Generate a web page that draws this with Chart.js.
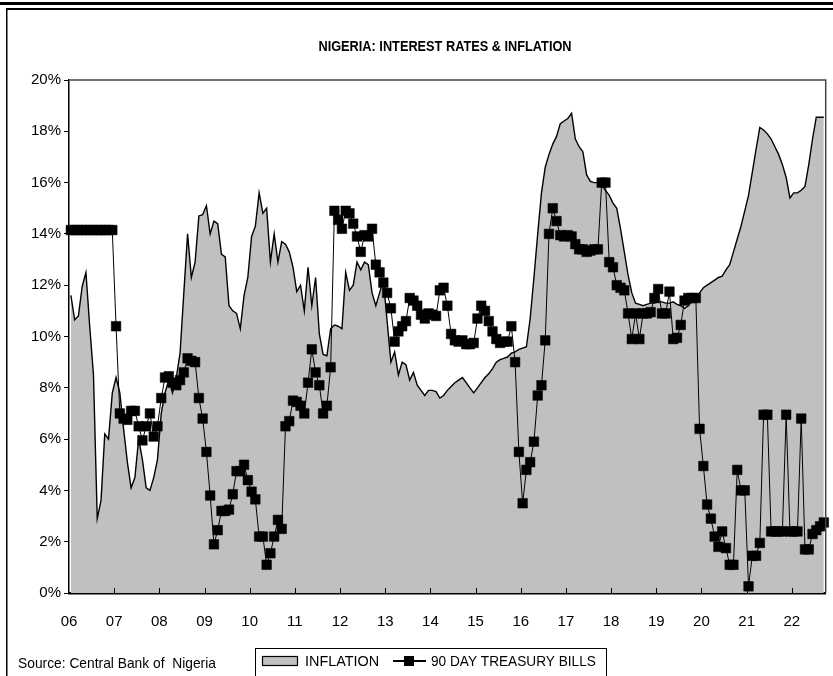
<!DOCTYPE html>
<html>
<head>
<meta charset="utf-8">
<script src="https://cdn.jsdelivr.net/npm/chart.js@4/dist/chart.umd.min.js"></script>
<style>
  html, body { margin: 0; padding: 0; background: #fff; }
  canvas { display: block; }
</style>
</head>
<body>
<canvas id="chart" width="833" height="676"></canvas>
<script>
// Monthly series, Jan 2006 onward (one value per month)
const yearLabels = ['06','07','08','09','10','11','12','13','14','15','16','17','18','19','20','21','22'];

const inflation = [
  11.6, 10.65, 10.8, 11.95, 12.5, 10.4, 8.5, 2.9, 3.6, 6.2, 6.0, 7.8,
  8.4, 7.8, 6.4, 5.1, 4.1, 4.5, 6.0, 5.2, 4.1, 4.0, 4.5, 5.2,
  7.0, 7.8, 8.3, 7.8, 8.4, 9.35, 11.7, 14.0, 12.3, 12.9, 14.7, 14.75,
  15.1, 14.0, 14.5, 14.4, 13.2, 13.1, 11.2, 11.0, 10.9, 10.3, 11.6, 12.3,
  13.9, 14.3, 15.6, 14.8, 15.0, 12.9, 14.0, 12.9, 13.7, 13.6, 13.3, 12.7,
  11.75, 12.0, 11.0, 12.7, 11.2, 12.3, 10.1, 9.3, 9.25, 10.3, 10.45, 10.4,
  10.3, 12.5, 11.8, 12.0, 12.9, 12.6, 12.9, 12.8, 11.7, 11.2, 11.7, 12.2,
  10.6, 9.0, 9.4, 8.5, 9.0, 8.9, 8.3, 8.6, 8.1, 7.9, 7.7, 7.9,
  7.9, 7.85, 7.6, 7.7, 7.9, 8.05, 8.2, 8.3, 8.4, 8.2, 8.0, 7.8,
  8.0, 8.2, 8.4, 8.55, 8.75, 9.0, 9.1, 9.15, 9.2, 9.35, 9.4, 9.5,
  9.55, 9.6, 10.7, 12.3, 14.0, 15.6, 16.6, 17.1, 17.5, 17.8, 18.3, 18.4,
  18.5, 18.7, 17.7, 17.4, 17.2, 16.3, 16.05, 16.0, 16.0, 15.9, 15.7, 15.5,
  15.2, 15.0, 14.2, 13.3, 12.4, 11.7, 11.3, 11.25, 11.2, 11.25, 11.3, 11.3,
  11.35, 11.35, 11.3, 11.3, 11.35, 11.25, 11.2, 11.1, 11.2, 11.4, 11.55, 11.7,
  11.9, 12.0, 12.1, 12.2, 12.3, 12.35, 12.6, 12.8, 13.3, 13.8, 14.3, 14.9,
  15.5, 16.4, 17.3, 18.15, 18.05, 17.9, 17.7, 17.4, 17.1, 16.7, 16.2, 15.4,
  15.6, 15.6, 15.7, 15.85, 16.7, 17.7, 18.55, 18.55, 18.55
];

const treasuryBills90 = [
  14.15, 14.15, 14.15, 14.15, 14.15, 14.15, 14.15, 14.15, 14.15, 14.15, 14.15, 14.15,
  10.4, 7.0, 6.8, 6.75, 7.1, 7.1, 6.5, 5.95, 6.5, 7.0, 6.1, 6.5,
  7.6, 8.4, 8.45, 8.2, 8.1, 8.3, 8.6, 9.15, 9.05, 9.0, 7.6, 6.8,
  5.5, 3.8, 1.9, 2.45, 3.2, 3.2, 3.25, 3.85, 4.75, 4.75, 5.0, 4.4,
  3.95, 3.65, 2.2, 2.2, 1.1, 1.55, 2.2, 2.85, 2.5, 6.5, 6.7, 7.5,
  7.45, 7.3, 7.0, 8.2, 9.5, 8.6, 8.1, 7.0, 7.3, 8.8, 14.9, 14.55,
  14.2, 14.9, 14.8, 14.4, 13.9, 13.3, 13.95, 13.9, 14.2, 12.8, 12.5, 12.1,
  11.7, 11.1, 9.8, 10.2, 10.4, 10.6, 11.5, 11.4, 11.2, 10.85, 10.7, 10.9,
  10.85, 10.8, 11.8, 11.9, 11.2, 10.1, 9.85, 9.8, 9.85, 9.7, 9.7, 9.75,
  10.7, 11.2, 11.0, 10.6, 10.2, 9.9, 9.75, 9.8, 9.8, 10.4, 9.0, 5.5,
  3.5, 4.8, 5.1, 5.9, 7.7, 8.1, 9.85, 14.0, 15.0, 14.5, 13.95, 13.9,
  13.95, 13.9, 13.6, 13.4, 13.4, 13.3, 13.35, 13.4, 13.4, 16.0, 16.0, 12.9,
  12.7, 12.0, 11.9, 11.8, 10.9, 9.9, 10.9, 9.9, 10.9, 10.9, 10.95, 11.5,
  11.85, 10.9, 10.9, 11.75, 9.9, 9.95, 10.45, 11.4, 11.5, 11.5, 11.5, 6.4,
  4.95, 3.45, 2.9, 2.2, 1.8, 2.4, 1.75, 1.1, 1.1, 4.8, 4.0, 4.0,
  0.26, 1.45, 1.45, 1.95, 6.95, 6.95, 2.4, 2.4, 2.4, 2.4, 6.95, 2.4,
  2.4, 2.4, 6.8, 1.7, 1.7, 2.3, 2.45, 2.6, 2.75
];

const seriesNames = ['INFLATION', '90 DAY TREASURY BILLS'];
const chartTitle = 'NIGERIA: INTEREST RATES & INFLATION';
const sourceNote = 'Source: Central Bank of  Nigeria';

const FONT = '"Liberation Sans Narrow", "Arial Narrow", "Liberation Sans", Arial, sans-serif';
const monthCount = Math.max(inflation.length, treasuryBills90.length);

// each month is centred in its own slot on the time axis
const asPoints = arr => arr.map((v, i) => ({ x: i + 0.5, y: v }));

// narrow-set text: draw with a horizontal squeeze around the anchor point
function narrowText(ctx, text, x, y, squeeze) {
  ctx.save();
  ctx.translate(x, y);
  ctx.scale(squeeze, 1);
  ctx.fillText(text, 0, 0);
  ctx.restore();
}

// Page furniture: rules, title, inward year ticks, plot frame, key and source line
const furniture = {
  id: 'furniture',
  beforeDraw(chart) {
    const { ctx, width, height } = chart;
    ctx.save();
    ctx.fillStyle = '#fff';
    ctx.fillRect(0, 0, width, height);
    ctx.restore();
  },
  afterDraw(chart) {
    const { ctx, chartArea: a, scales } = chart;
    ctx.save();

    // plot frame (top and right)
    ctx.strokeStyle = '#444';
    ctx.lineWidth = 1.5;
    ctx.beginPath();
    ctx.moveTo(a.left, a.top);
    ctx.lineTo(a.right, a.top);
    ctx.lineTo(a.right, a.bottom);
    ctx.stroke();

    // year ticks pointing into the plot
    ctx.strokeStyle = '#000';
    ctx.lineWidth = 1;
    for (let v = 12; v < monthCount; v += 12) {
      const x = Math.round(scales.x.getPixelForValue(v)) + 0.5;
      ctx.beginPath();
      ctx.moveTo(x, a.bottom);
      ctx.lineTo(x, a.bottom - 5);
      ctx.stroke();
    }

    // double rule along the top, single rule down the left side
    ctx.fillStyle = '#000';
    ctx.fillRect(0, 2, chart.width, 3);
    ctx.fillRect(7, 8, chart.width - 7, 2);
    ctx.fillRect(6, 8, 1.5, chart.height - 8);

    // title
    ctx.fillStyle = '#000';
    ctx.font = 'bold 15px ' + FONT;
    ctx.textAlign = 'center';
    ctx.textBaseline = 'middle';
    narrowText(ctx, chartTitle, 445, 47, 0.85);

    // source line
    ctx.font = '15px ' + FONT;
    ctx.textAlign = 'left';
    narrowText(ctx, sourceNote, 18, 664, 0.92);

    // key box
    const [dsInf, dsTb] = chart.data.datasets;
    ctx.lineWidth = 1;
    ctx.strokeStyle = '#000';
    ctx.strokeRect(255.5, 648.5, 351, 40);

    // inflation swatch
    ctx.fillStyle = dsInf.backgroundColor;
    ctx.fillRect(262, 656, 36, 10);
    ctx.lineWidth = 1.2;
    ctx.strokeRect(262.5, 656.5, 35, 9);
    ctx.fillStyle = '#000';
    narrowText(ctx, dsInf.label, 305, 662, 0.96);

    // treasury bill swatch: line with square marker
    ctx.strokeStyle = dsTb.borderColor;
    ctx.lineWidth = 2;
    ctx.beginPath();
    ctx.moveTo(393, 661);
    ctx.lineTo(426, 661);
    ctx.stroke();
    ctx.fillStyle = dsTb.pointBackgroundColor;
    ctx.fillRect(404, 656, 10, 10);
    ctx.fillStyle = '#000';
    narrowText(ctx, dsTb.label, 431, 662, 0.91);

    ctx.restore();
  }
};

Chart.defaults.font.family = FONT;
Chart.defaults.color = '#000';

new Chart(document.getElementById('chart'), {
  type: 'line',
  data: {
    datasets: [
      {
        label: seriesNames[0],
        data: asPoints(inflation),
        fill: 'origin',
        backgroundColor: '#c0c0c0',
        borderColor: '#000',
        borderWidth: 1.4,
        pointRadius: 0,
        tension: 0,
        order: 2
      },
      {
        label: seriesNames[1],
        data: asPoints(treasuryBills90),
        fill: false,
        borderColor: '#000',
        borderWidth: 1,
        pointStyle: 'rect',
        pointRadius: 6.8,
        pointBackgroundColor: '#000',
        pointBorderColor: '#000',
        pointBorderWidth: 0.5,
        tension: 0,
        clip: false,
        order: 1
      }
    ]
  },
  options: {
    responsive: false,
    animation: false,
    events: [],
    layout: { padding: { top: 80, right: 7, left: 0, bottom: 0 } },
    plugins: {
      legend: { display: false },
      title: { display: false },
      tooltip: { enabled: false }
    },
    scales: {
      x: {
        type: 'linear',
        min: 0,
        max: monthCount,
        afterFit(scale) { scale.height = 83; },
        border: { display: true, color: '#000', width: 2.5 },
        grid: { display: false, drawOnChartArea: false, drawTicks: false },
        ticks: {
          stepSize: 12,
          includeBounds: false,
          autoSkip: false,
          maxRotation: 0,
          padding: 20,
          font: { size: 15 },
          callback: v => (v % 12 === 0 && yearLabels[v / 12] !== undefined) ? yearLabels[v / 12] : null
        }
      },
      y: {
        min: 0,
        max: 20,
        afterFit(scale) { scale.width = 69; },
        border: { display: true, color: '#000', width: 1.5 },
        grid: { drawOnChartArea: false, drawTicks: true, tickLength: 5, color: '#000', lineWidth: 1 },
        ticks: {
          stepSize: 2,
          padding: 3,
          font: { size: 15 },
          callback: v => v + '%'
        }
      }
    }
  },
  plugins: [furniture]
});
</script>
</body>
</html>
